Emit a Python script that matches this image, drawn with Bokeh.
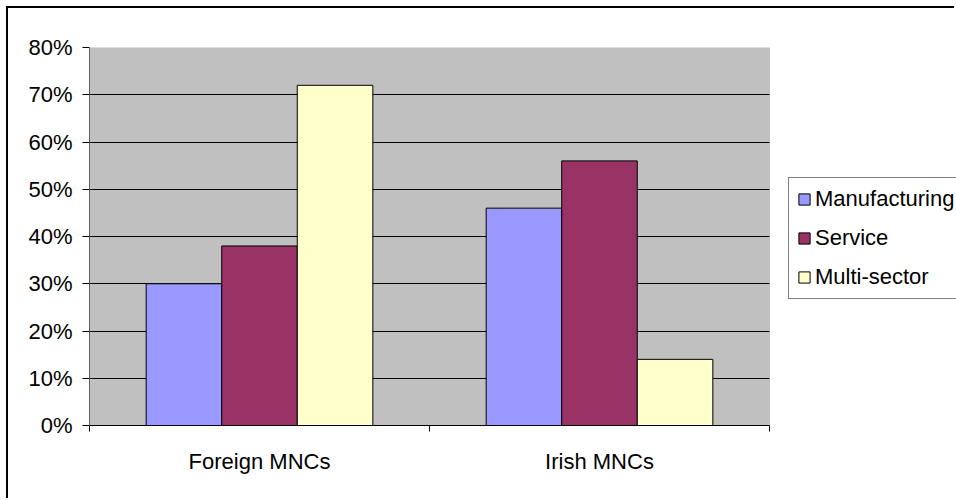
from bokeh.plotting import figure
from bokeh.models import (ColumnDataSource, Range1d, FixedTicker,
                          NumeralTickFormatter, BoxAnnotation)
from bokeh.transform import dodge
from bokeh.embed import file_html
from bokeh.resources import INLINE

groups = ["Foreign MNCs", "Irish MNCs"]
series = ["Manufacturing", "Service", "Multi-sector"]
manufacturing = [0.30, 0.46]
service = [0.38, 0.56]
multi_sector = [0.72, 0.14]
y_ticks = [0.0, 0.1, 0.2, 0.3, 0.4, 0.5, 0.6, 0.7, 0.8]
colors = ["#9999FF", "#993366", "#FFFFCC"]

FONT = "Liberation Sans"
FS = "22px"

n = len(groups)
centers = [i + 0.5 for i in range(n)]
source = ColumnDataSource(dict(pos=centers, manufacturing=manufacturing,
                               service=service, multi_sector=multi_sector))

W, H = 948, 492
LEFT, TOP, PLOT_W, BOTTOM = 81, 39, 680, 417
x_end = n * (W - LEFT) / PLOT_W   # frame runs to the canvas edge, plot area is [0, n]

p = figure(width=W, height=H, output_backend="svg", toolbar_location=None,
           x_range=Range1d(0, x_end), y_range=Range1d(y_ticks[0], y_ticks[-1]),
           min_border_left=LEFT, min_border_right=0, min_border_top=TOP,
           min_border_bottom=H - BOTTOM)
p.styles = {"margin-left": "6px", "margin-top": "6px",
            "border-left": "2px solid black", "border-top": "2px solid black"}

p.background_fill_color = "white"
p.border_fill_color = "white"
p.outline_line_color = None

# plot area (grey) as a box over [0, n] x [0, 0.8]
area = BoxAnnotation(left=0, right=n, bottom=y_ticks[0], top=y_ticks[-1],
                     fill_color="#C0C0C0", fill_alpha=1,
                     line_color="#808080", line_width=1, level="image")
p.add_layout(area)

bw = 0.2222
cols = ["manufacturing", "service", "multi_sector"]
offsets = [-bw, 0.0, bw]
for c, off, col, name in zip(cols, offsets, colors, series):
    p.vbar(x=dodge("pos", off), top=c, width=bw, bottom=0,
           source=source, fill_color=col, line_color="black", line_width=1,
           legend_label=name)

# grid
p.xgrid.visible = False
grid_ticks = y_ticks[1:-1]
try:
    p.ygrid.cross_bounds = (0, n)
    p.ygrid.ticker = FixedTicker(ticks=grid_ticks)
    p.ygrid.grid_line_color = "black"
    p.ygrid.grid_line_width = 1
except AttributeError:
    p.ygrid.visible = False
    p.segment(x0=[0] * len(grid_ticks), x1=[n] * len(grid_ticks),
              y0=grid_ticks, y1=grid_ticks, line_color="black", line_width=1,
              level="underlay")

# y axis
ya = p.yaxis[0]
ya.ticker = FixedTicker(ticks=y_ticks)
ya.formatter = NumeralTickFormatter(format="0%")
ya.axis_line_color = "#606060"
ya.major_tick_line_color = "black"
ya.major_tick_out = 7
ya.major_tick_in = 0
ya.minor_tick_line_color = None
ya.major_label_standoff = 10
ya.major_label_text_font = FONT
ya.major_label_text_font_size = FS
ya.major_label_text_color = "black"

# x axis with ticks between categories
xa = p.xaxis[0]
xa.bounds = (0, n)
xa.ticker = FixedTicker(ticks=centers, minor_ticks=list(range(n + 1)))
xa.major_label_overrides = {c: g for c, g in zip(centers, groups)}
xa.axis_line_color = "black"
xa.major_tick_line_color = None
xa.major_tick_out = 0
xa.major_tick_in = 0
xa.minor_tick_line_color = "black"
xa.minor_tick_out = 6
xa.minor_tick_in = 0
xa.major_label_standoff = 17
xa.major_label_text_font = FONT
xa.major_label_text_font_size = FS
xa.major_label_text_color = "black"

# legend (inside the wide frame, right of the plot area)
lg = p.legend[0]
lg.location = (699, 126)
lg.border_line_color = "black"
lg.border_line_width = 1
lg.background_fill_color = "white"
lg.background_fill_alpha = 1
lg.label_text_font = FONT
lg.label_text_font_size = FS
lg.label_text_color = "black"
lg.glyph_width = 14
lg.glyph_height = 14
lg.label_height = 24
lg.label_standoff = 4
lg.spacing = 13
lg.padding = 8
lg.margin = 0

open("out.html", "w").write(file_html(p, INLINE))
